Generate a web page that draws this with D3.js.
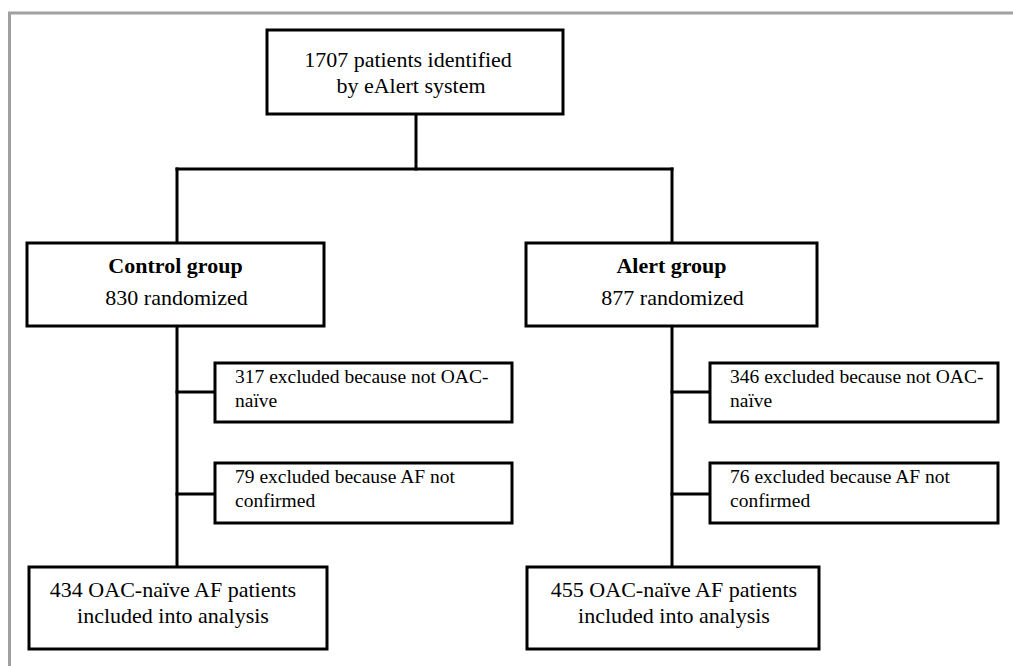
<!DOCTYPE html>
<html><head><meta charset="utf-8">
<script src="https://cdn.jsdelivr.net/npm/d3@7"></script>
<style>html,body{margin:0;padding:0;background:#fff;}svg{display:block;}
svg text{font-family:"Liberation Serif","Tinos","Times New Roman","Times","Nimbus Roman","Nimbus Roman No9 L","FreeSerif","Noto Serif","DejaVu Serif",serif;}</style>
</head><body>
<svg id="chart" width="1013" height="666"></svg>
<script>
// ---- data ----
const topLines = ["1707 patients identified", "by eAlert system"];
const groupTitles = ["Control group", "Alert group"];
const groupRandomized = [830, 877];
const exclNotNaive = [317, 346];
const exclNotConfirmed = [79, 76];
const included = [434, 455];

// ---- layout ----
const svg = d3.select("#chart");
const sw = 3;

// frame
svg.append("path").attr("d", "M9.5,666 V13 H1013").attr("fill", "none")
  .attr("stroke", "#a0a0a0").attr("stroke-width", 3);

const colX = d3.scaleOrdinal().domain([0, 1]).range([177, 672]);
const boxL = [27, 526], boxW = [297, 291];
const exL = [215, 710], exW = [297, 288];
const botL = [29, 527], botW = [298, 292];
const botShift = [-5, 1];

function rect(x, y, w, h) {
  svg.append("rect").attr("x", x).attr("y", y).attr("width", w).attr("height", h)
    .attr("fill", "#fff").attr("stroke", "#000").attr("stroke-width", sw);
}
function line(x1, y1, x2, y2) {
  svg.append("line").attr("x1", x1).attr("y1", y1).attr("x2", x2).attr("y2", y2)
    .attr("stroke", "#000").attr("stroke-width", sw).attr("stroke-linecap", "square");
}
function text(x, y, s, size, anchor, weight) {
  svg.append("text").attr("x", x).attr("y", y)
    .style("font-size", size + "px").attr("text-anchor", anchor || "middle")
    .style("font-weight", weight || "normal").attr("fill", "#000").text(s);
}

// connectors
line(416, 114, 416, 169);
line(colX(0), 169, colX(1), 169);
[0, 1].forEach(i => {
  const cx = colX(i);
  line(cx, 169, cx, 243);
  line(cx, 326, cx, 567);
  line(cx, 392, exL[i], 392);
  line(cx, 494, exL[i], 494);
});

// top box
rect(267, 30, 296, 84);
text(408, 67, topLines[0], 22);
text(411, 93, topLines[1], 22);

[0, 1].forEach(i => {
  // group box
  rect(boxL[i], 243, boxW[i], 83);
  const cx = boxL[i] + boxW[i] / 2;
  text(cx, 273, groupTitles[i], 22, "middle", "bold");
  text(cx + 1, 305, groupRandomized[i] + " randomized", 22);
  // exclusions
  rect(exL[i], 363, exW[i], 59);
  text(exL[i] + 20, 383, exclNotNaive[i] + " excluded because not OAC-", 19.5, "start");
  text(exL[i] + 20, 407, "naïve", 19.5, "start");
  rect(exL[i], 463, exW[i], 60);
  text(exL[i] + 20, 483, exclNotConfirmed[i] + " excluded because AF not", 19.5, "start");
  text(exL[i] + 20, 507, "confirmed", 19.5, "start");
  // included
  rect(botL[i], 567, botW[i], 82);
  const bx = botL[i] + botW[i] / 2 + botShift[i];
  text(bx, 597, included[i] + " OAC-naïve AF patients", 22);
  text(bx, 623, "included into analysis", 22);
});
</script>
</body></html>
